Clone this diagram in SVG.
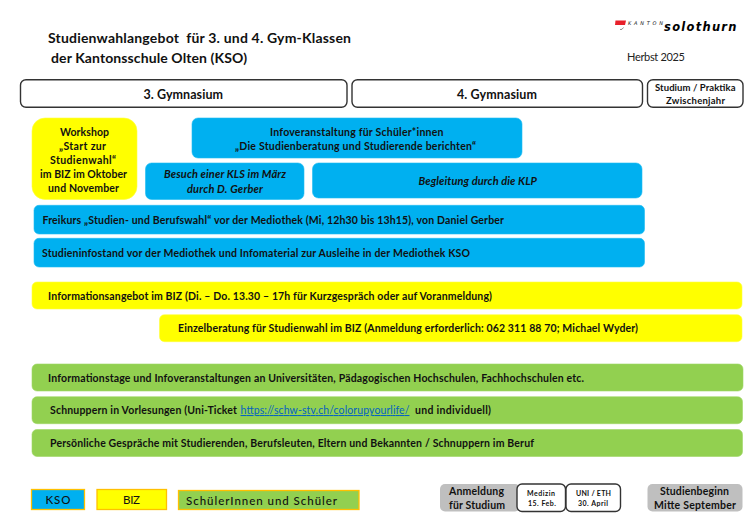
<svg xmlns="http://www.w3.org/2000/svg" width="750" height="520" viewBox="0 0 750 520">
<style>
text{font-family:"Lato","Carlito","Liberation Sans",sans-serif;fill:#111;white-space:pre}
.b{font-weight:700;font-size:10.5px}
.i{font-weight:700;font-style:italic;font-size:11px}
.t{font-weight:700;font-size:14px}
.h{font-weight:700;font-size:12.5px}
.s{font-weight:700;font-size:9.5px}
.xs{font-weight:700;font-size:7px}
.box{fill:#fff;stroke:#333;stroke-width:1.4}
.blue{fill:#00b0f0;stroke:#1fbcf2;stroke-width:.6}
.yel{fill:#ff0;stroke:#ffff40;stroke-width:.6}
.grn{fill:#92d050;stroke:#9fd767;stroke-width:.6}
.gry{fill:#bfbfbf}
.leg{stroke:#ffc000;stroke-width:1.3}
</style>
<rect width="750" height="520" fill="#fff"/>
<g id="title">
<text class="t" x="48" y="43" textLength="303">Studienwahlangebot  für 3. und 4. Gym-Klassen</text>
<text class="t" x="51" y="63" textLength="196">der Kantonsschule Olten (KSO)</text>
</g>
<g id="logo">
<path d="M615.5 20.5L626 20.5L625 25L615 25Z" fill="#e8202a"/>
<path d="M620 29.5L622 29.3L623.5 27.5" fill="none" stroke="#444" stroke-width=".6"/>
<text x="628" y="24.5" textLength="35" style="font-family:'DejaVu Sans',sans-serif;font-style:italic;font-size:5px">KANTON</text>
<text x="664" y="31" textLength="72.5" style="font-family:'DejaVu Sans',sans-serif;font-style:italic;font-weight:700;font-size:11.5px;fill:#000">solothurn</text>
</g>
<g id="herbst"><text x="627" y="61" textLength="58" style="font-size:11px;fill:#222">Herbst 2025</text></g>
<g id="gym3"><rect class="box" x="20.5" y="79.7" width="326.5" height="27.6" rx="5.5"/>
<text class="h" x="143.5" y="98.5" textLength="79.5">3. Gymnasium</text></g>
<g id="gym4"><rect class="box" x="352" y="79.7" width="290.5" height="27.6" rx="5.5"/>
<text class="h" x="457" y="98.5" textLength="80">4. Gymnasium</text></g>
<g id="studium"><rect class="box" x="647.5" y="79.7" width="95.5" height="27.6" rx="5.5"/>
<text class="s" x="655" y="91" textLength="80.5">Studium / Praktika</text>
<text class="s" x="666" y="104" textLength="59">Zwischenjahr</text></g>
<g id="workshop"><rect class="yel" x="32" y="118" width="105" height="81.5" rx="13"/>
<text class="b" x="60" y="136" textLength="49">Workshop</text>
<text class="b" x="59" y="150" textLength="47">„Start zur</text>
<text class="b" x="50" y="164" textLength="66">Studienwahl“</text>
<text class="b" x="40" y="178" textLength="87">im BIZ im Oktober</text>
<text class="b" x="48" y="192" textLength="71">und November</text></g>
<g id="infoveranstaltung"><rect class="blue" x="192" y="118" width="330" height="40" rx="6"/>
<text class="b" x="270" y="136" textLength="173.5">Infoveranstaltung für Schüler*innen</text>
<text class="b" x="235" y="150" textLength="241">„Die Studienberatung und Studierende berichten“</text></g>
<g id="besuch"><rect class="blue" x="145.5" y="163" width="158.5" height="36.5" rx="6"/>
<text class="i" x="164" y="178" textLength="122">Besuch einer KLS im März</text>
<text class="i" x="187" y="193" textLength="76">durch D. Gerber</text></g>
<g id="begleitung"><rect class="blue" x="312.5" y="163" width="329.5" height="35" rx="6"/>
<text class="i" x="418.5" y="185" textLength="118.5">Begleitung durch die KLP</text></g>
<g id="freikurs"><rect class="blue" x="34" y="205.3" width="610.5" height="28.7" rx="5"/>
<text class="b" x="42.5" y="224" textLength="461.5">Freikurs „Studien- und Berufswahl“ vor der Mediothek (Mi, 12h30 bis 13h15), von Daniel Gerber</text></g>
<g id="infostand"><rect class="blue" x="34" y="238.3" width="610.5" height="28.7" rx="5"/>
<text class="b" x="42" y="257" textLength="428">Studieninfostand vor der Mediothek und Infomaterial zur Ausleihe in der Mediothek KSO</text></g>
<g id="infoangebot"><rect class="yel" x="32" y="282" width="710" height="27" rx="5"/>
<text class="b" x="48" y="299.5" textLength="444">Informationsangebot im BIZ (Di. – Do. 13.30 – 17h für Kurzgespräch oder auf Voranmeldung)</text></g>
<g id="einzelberatung"><rect class="yel" x="159.5" y="314.7" width="582.5" height="27" rx="5"/>
<text class="b" x="178" y="332" textLength="460">Einzelberatung für Studienwahl im BIZ (Anmeldung erforderlich: 062 311 88 70; Michael Wyder)</text></g>
<g id="infotage"><rect class="grn" x="32" y="364" width="711" height="27" rx="5"/>
<text class="b" x="48" y="381.5" textLength="536">Informationstage und Infoveranstaltungen an Universitäten, Pädagogischen Hochschulen, Fachhochschulen etc.</text></g>
<g id="schnuppern"><rect class="grn" x="32" y="396.7" width="710.5" height="27" rx="5"/>
<text class="b" x="50" y="414" textLength="187">Schnuppern in Vorlesungen (Uni-Ticket</text>
<text x="240.5" y="414" textLength="169" style="font-size:10.5px;fill:#0563c1;text-decoration:underline">https://schw-stv.ch/colorupyourlife/</text>
<text class="b" x="415" y="414" textLength="76">und individuell)</text></g>
<g id="gespraeche"><rect class="grn" x="32" y="429.5" width="710.5" height="27" rx="5"/>
<text class="b" x="50" y="446.5" textLength="484">Persönliche Gespräche mit Studierenden, Berufsleuten, Eltern und Bekannten / Schnuppern im Beruf</text></g>
<g id="legend-kso"><rect class="leg" x="31.5" y="489.5" width="53" height="20" fill="#00b0f0"/>
<text x="45.5" y="504" textLength="25" style="font-size:11.5px;font-weight:500">KSO</text></g>
<g id="legend-biz"><rect class="leg" x="97" y="489.5" width="69.5" height="20" fill="#ff0"/>
<text x="123" y="504" textLength="17" style="font-size:11.5px">BIZ</text></g>
<g id="legend-schueler"><rect class="leg" x="178.5" y="490.5" width="180.5" height="19" fill="#92d050"/>
<text x="186" y="505" textLength="151" style="font-size:11.5px;font-weight:500">SchülerInnen und Schüler</text></g>
<g id="anmeldung"><rect class="gry" x="440" y="484" width="80" height="27.5" rx="5"/>
<text class="b" x="449" y="495" textLength="55">Anmeldung</text>
<text class="b" x="449" y="509" textLength="56">für Studium</text></g>
<g id="medizin"><rect class="box" x="517" y="484" width="48.5" height="27.5" rx="5"/>
<text class="xs" x="527" y="496" textLength="28">Medizin</text>
<text class="xs" x="528" y="506" textLength="28">15. Feb.</text></g>
<g id="uni-eth"><rect class="box" x="566" y="484" width="54.5" height="27.5" rx="5"/>
<text class="xs" x="576" y="496" textLength="35">UNI / ETH</text>
<text class="xs" x="578" y="506" textLength="30">30. April</text></g>
<g id="studienbeginn"><rect class="gry" x="647.5" y="484" width="95" height="27.5" rx="5"/>
<text class="b" x="660" y="495" textLength="69">Studienbeginn</text>
<text class="b" x="654" y="509" textLength="82">Mitte September</text></g>
</svg>
